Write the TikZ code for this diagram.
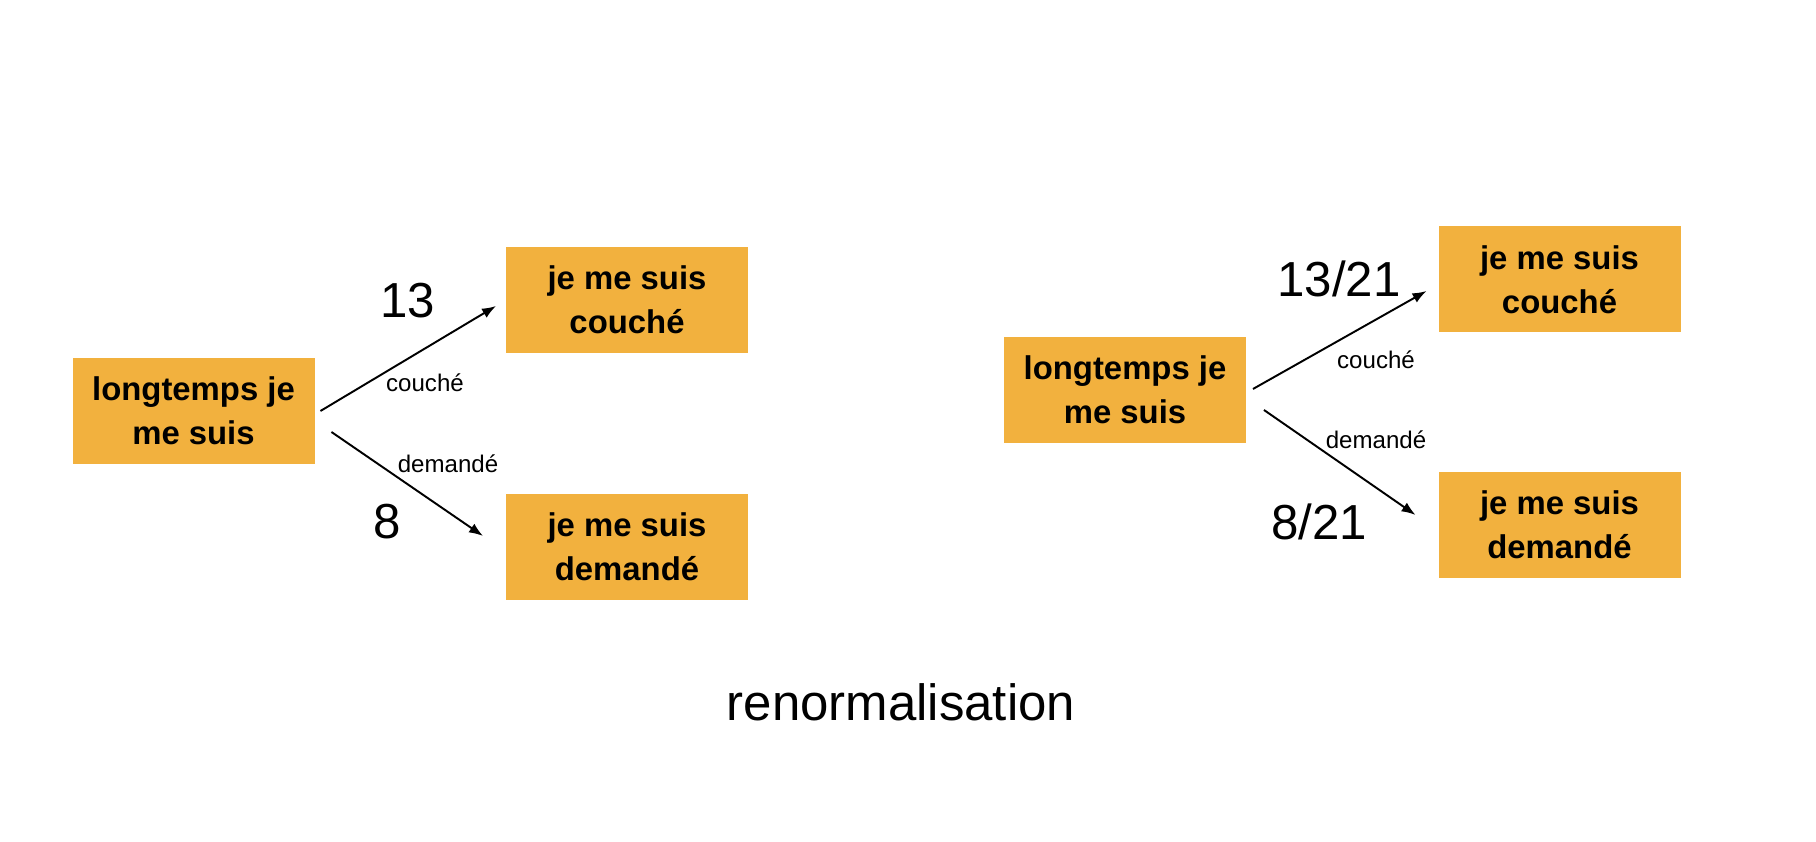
\documentclass[tikz,border=0pt]{standalone}
\usepackage{fontspec}
\setmainfont{Liberation Sans}
\usetikzlibrary{arrows.meta, positioning, calc}
\definecolor{corange}{HTML}{F2B13E}
\tikzset{
  every picture/.style={line width=1.1pt},
  box/.style={fill=#1, align=center, inner sep=0pt, minimum width=4.84cm, minimum height=2.12cm,
    font=\fontsize{18.7}{25}\selectfont\bfseries},
  box/.default=corange,
  arrow/.style={-{Latex[length=2.8mm, width=2.1mm]}, draw=black},
  count/.style={font=\fontsize{28}{32}\selectfont},
  word/.style={font=\fontsize{13.7}{16}\selectfont},
}
\begin{document}
\begin{tikzpicture}[
  title/.style={font=\fontsize{29}{34}\selectfont}]
  \useasboundingbox (0,0) rectangle (36.32,16.84);
  % ---- counts ----
  \node[box] (L) at (3.87,8.62) {longtemps je\\me suis};
  \node[box] (LT) at (12.54,10.84) {je me suis\\couché};
  \node[box] (LB) at (12.54,5.90) {je me suis\\demandé};
  \draw[arrow] ($(L.east)+(0.1,0)$) -- ($(LT.west)+(-0.18,-0.12)$);
  \draw[arrow] ($(L.east)+(0.32,-0.42)$) -- ($(LB.west)+(-0.44,0.22)$);
  \node[count] (n13) at (8.16,10.82) {13};
  \node[count] (n8) at (7.74,6.40) {8};
  \node[word] (wc) at (8.50,9.18) {couché};
  \node[word] (wd) at (8.96,7.56) {demandé};
  % ---- probabilities ----
  \node[box] (R) at (22.50,9.04) {longtemps je\\me suis};
  \node[box] (RT) at (31.19,11.25) {je me suis\\couché};
  \node[box] (RB) at (31.19,6.34) {je me suis\\demandé};
  \draw[arrow] ($(R.east)+(0.12,0.02)$) -- ($(RT.west)+(-0.22,-0.23)$);
  \draw[arrow] ($(R.east)+(0.34,-0.4)$) -- ($(RB.west)+(-0.44,0.2)$);
  \node[count] (p13) at (26.78,11.26) {13/21};
  \node[count] (p8) at (26.38,6.40) {8/21};
  \node[word] (vc) at (27.52,9.64) {couché};
  \node[word] (vd) at (27.52,8.04) {demandé};
  \node[title] (t) at (18.02,2.80) {renormalisation};
\end{tikzpicture}
\end{document}
